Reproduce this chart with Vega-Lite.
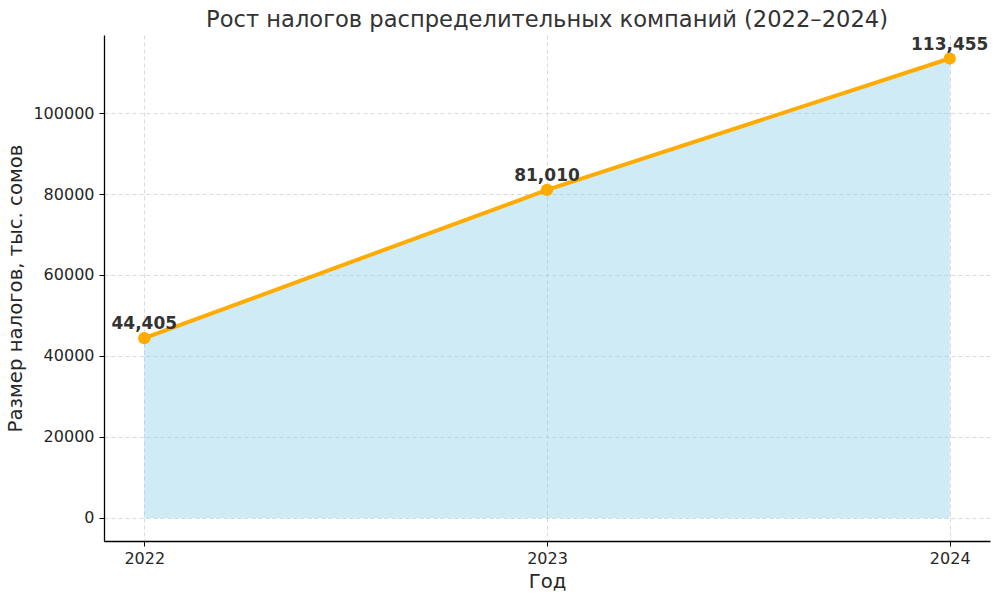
{
  "$schema": "https://vega.github.io/schema/vega-lite/v6.json",
  "autosize": {"type": "none"},
  "padding": {"left": 104, "top": 35, "right": 10, "bottom": 57},
  "width": 886,
  "height": 506,
  "background": "white",
  "config": {
    "view": {"stroke": null},
    "font": "DejaVu Sans",
    "axis": {
      "labelFont": "DejaVu Sans",
      "titleFont": "DejaVu Sans",
      "labelFontSize": 16,
      "titleFontSize": 19.7,
      "titleFontWeight": "normal",
      "labelColor": "#262626",
      "titleColor": "#262626",
      "domainColor": "#000000",
      "domainWidth": 1.3,
      "tickColor": "#000000",
      "tickSize": 5,
      "tickWidth": 1,
      "gridColor": "#b0b0b0",
      "gridOpacity": 0.6,
      "gridDash": [4, 3],
      "gridWidth": 0.8
    }
  },
  "title": {
    "text": "Рост налогов распределительных компаний (2022–2024)",
    "font": "DejaVu Sans",
    "fontSize": 22.6,
    "fontWeight": "normal",
    "color": "#333333",
    "anchor": "middle",
    "offset": 3
  },
  "data": {
    "values": [
      {"year": 2022, "tax": 44405, "label": "44,405"},
      {"year": 2023, "tax": 81010, "label": "81,010"},
      {"year": 2024, "tax": 113455, "label": "113,455"}
    ]
  },
  "encoding": {
    "x": {
      "field": "year",
      "type": "quantitative",
      "scale": {"domain": [2021.9, 2024.1], "nice": false, "zero": false},
      "axis": {"values": [2022, 2023, 2024], "format": "d", "title": "Год", "labelPadding": 4, "titlePadding": 5, "grid": true}
    },
    "y": {
      "field": "tax",
      "type": "quantitative",
      "scale": {"domain": [-5680, 119260], "nice": false, "zero": false},
      "axis": {"values": [0, 20000, 40000, 60000, 80000, 100000], "format": "d", "title": "Размер налогов, тыс. сомов", "labelPadding": 5, "titlePadding": 7, "grid": true}
    }
  },
  "layer": [
    {
      "mark": {"type": "area", "color": "#87ceeb", "opacity": 0.4, "stroke": "#87ceeb", "strokeWidth": 1, "strokeOpacity": 0.4},
      "encoding": {"y2": {"datum": 0}}
    },
    {
      "mark": {"type": "line", "color": "#ffab00", "strokeWidth": 4}
    },
    {
      "mark": {"type": "point", "filled": true, "color": "#ffab00", "size": 150, "opacity": 1}
    },
    {
      "mark": {"type": "text", "font": "DejaVu Sans", "fontWeight": "bold", "fontSize": 17, "color": "#333333", "baseline": "bottom", "dy": -5},
      "encoding": {"text": {"field": "label"}}
    }
  ]
}
